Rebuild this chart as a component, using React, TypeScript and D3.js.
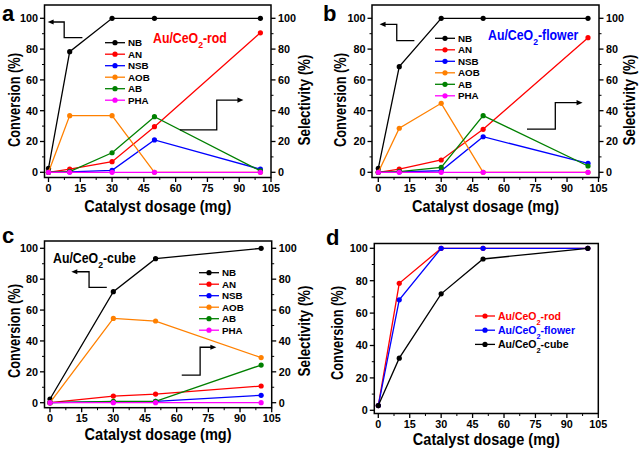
import React from "react";
import * as d3 from "d3";

const dosageABC = [0, 10, 30, 50, 100];
const dosageC = [0, 30, 50, 100];
const dosageD = [0, 10, 30, 50, 100];
const seriesNames = ["NB", "AN", "NSB", "AOB", "AB", "PHA"];
const seriesColors = ["#000000", "#ff0000", "#0000ff", "#ff8000", "#008000", "#ff00ff"];

const rodValues = [
  [2.6, 78.3, 100, 100, 100],
  [0, 2, 6.9, 29.6, 90.6],
  [0, 0.3, 1.3, 21, 2],
  [0, 36.8, 36.8, 0, 0],
  [0, 0.5, 12.7, 36.1, 0.9],
  [0, 0, 0, 0, 0],
];
const flowerValues = [
  [2.6, 68.6, 100, 100, 100],
  [0, 2, 8, 27.9, 87.4],
  [0, 0.3, 1, 23.1, 5.8],
  [0, 28.6, 44.8, 0, 0],
  [0, 0.5, 3.2, 36.8, 4.1],
  [0, 0, 0, 0, 0],
];
const cubeValues = [
  [2.4, 71.9, 93.3, 100],
  [0, 4.3, 5.6, 10.8],
  [0, 0.6, 0.9, 4.8],
  [0, 54.6, 52.9, 29.2],
  [0, 0.9, 0.9, 24.4],
  [0, 0, 0, 0],
];
const catalystNames = ["Au/CeO2-rod", "Au/CeO2-flower", "Au/CeO2-cube"];
const catalystColors = ["#ff0000", "#0000ff", "#000000"];
const conversionValues = [
  [2.9, 78.4, 100, 100, 100],
  [2.9, 68.2, 100, 100, 100],
  [2.9, 32.2, 71.9, 93.4, 100],
];
const xTicks = [0, 15, 30, 45, 60, 75, 90, 105];
const yTicks = [0, 20, 40, 60, 80, 100];

const FONT = "'Liberation Sans', Arial, Helvetica, sans-serif";

type Pt = [number, number];

interface PanelCfg {
  letter: string;
  letterPos: Pt;
  frame: { l: number; r: number; t: number; b: number };
  x0: [number, number];
  y0: [number, number];
  xs: number[];
  series: { name: string; color: string; values: number[] }[];
  rightAxis: boolean;
  legend: { x: number; y: number; dy: number; colored: boolean; fs: number };
  title?: { text: string; color: string; x: number; y: number };
  arrows?: Pt[][];
  xLabelY: number;
  yLabelX: number;
  yLabelY: number;
  y2LabelX?: number;
}

function Sub({ text }: { text: string }) {
  const i = text.indexOf("O2");
  if (i < 0) return <>{text}</>;
  return (
    <>
      {text.slice(0, i + 1)}
      <tspan baselineShift="sub" fontSize="0.7em">2</tspan>
      {text.slice(i + 2)}
    </>
  );
}

function Panel({ c }: { c: PanelCfg }) {
  const { frame } = c;
  const xPx = d3.scaleLinear().domain([0, 105]).range(c.x0);
  const yPx = d3.scaleLinear().domain([0, 100]).range(c.y0);
  const x = d3.scaleLinear().domain([xPx.invert(frame.l), xPx.invert(frame.r)]).range([frame.l, frame.r]);
  const y = d3.scaleLinear().domain([yPx.invert(frame.b), yPx.invert(frame.t)]).range([frame.b, frame.t]);
  const line = d3
    .line<[number, number]>()
    .x((d) => x(d[0]))
    .y((d) => y(d[1]));
  const xMinor = d3.range(7.5, 105, 15);
  const yMinor = d3.range(10, 100, 20);
  const cx = (frame.l + frame.r) / 2;
  return (
    <g fontFamily={FONT} fontWeight="bold">
      <text x={c.letterPos[0]} y={c.letterPos[1]} fontSize={22}>
        {c.letter}
      </text>
      {c.series.map((s) => {
        const pts = c.xs.map((xv, i) => [xv, s.values[i]] as [number, number]);
        return (
          <g key={s.name}>
            <path d={line(pts) || ""} fill="none" stroke={s.color} strokeWidth={1.3} />
            {pts.map((p, i) => (
              <circle key={i} cx={x(p[0])} cy={y(p[1])} r={2.6} fill={s.color} />
            ))}
          </g>
        );
      })}
      <rect x={frame.l} y={frame.t} width={frame.r - frame.l} height={frame.b - frame.t} fill="none" stroke="#000" strokeWidth={1.5} />
      {xTicks.map((t) => (
        <g key={"xt" + t}>
          <line x1={x(t)} x2={x(t)} y1={frame.b} y2={frame.b + 4.5} stroke="#000" strokeWidth={1.3} />
          <text x={x(t)} y={frame.b + 14} fontSize={10.8} textAnchor="middle">
            {t}
          </text>
        </g>
      ))}
      {xMinor.map((t) => (
        <line key={"xm" + t} x1={x(t)} x2={x(t)} y1={frame.b} y2={frame.b + 2.5} stroke="#000" strokeWidth={1} />
      ))}
      {yTicks.map((t) => (
        <g key={"yt" + t}>
          <line x1={frame.l - 4.5} x2={frame.l} y1={y(t)} y2={y(t)} stroke="#000" strokeWidth={1.3} />
          <text x={frame.l - 6.5} y={y(t) + 3.9} fontSize={10.8} textAnchor="end">
            {t}
          </text>
          {c.rightAxis && (
            <>
              <line x1={frame.r} x2={frame.r + 4.5} y1={y(t)} y2={y(t)} stroke="#000" strokeWidth={1.3} />
              <text x={frame.r + 7} y={y(t) + 3.9} fontSize={10.8} textAnchor="start">
                {t}
              </text>
            </>
          )}
        </g>
      ))}
      {yMinor.map((t) => (
        <g key={"ym" + t}>
          <line x1={frame.l - 2.5} x2={frame.l} y1={y(t)} y2={y(t)} stroke="#000" strokeWidth={1} />
          {c.rightAxis && <line x1={frame.r} x2={frame.r + 2.5} y1={y(t)} y2={y(t)} stroke="#000" strokeWidth={1} />}
        </g>
      ))}
      <text x={cx} y={c.xLabelY} fontSize={17} textAnchor="middle" textLength={147} lengthAdjust="spacingAndGlyphs">
        Catalyst dosage (mg)
      </text>
      <text
        transform={`translate(${c.yLabelX},${c.yLabelY}) rotate(-90)`}
        fontSize={16.5}
        textAnchor="middle"
        textLength={94}
        lengthAdjust="spacingAndGlyphs"
      >
        Conversion (%)
      </text>
      {c.rightAxis && c.y2LabelX !== undefined && (
        <text
          transform={`translate(${c.y2LabelX},${c.yLabelY}) rotate(-90)`}
          fontSize={16.5}
          textAnchor="middle"
          textLength={91}
          lengthAdjust="spacingAndGlyphs"
        >
          Selectivity (%)
        </text>
      )}
      {c.series.map((s, i) => {
        const ly = c.legend.y + i * c.legend.dy;
        return (
          <g key={"lg" + s.name}>
            <line x1={c.legend.x} x2={c.legend.x + 20} y1={ly} y2={ly} stroke={s.color} strokeWidth={1.3} />
            <circle cx={c.legend.x + 10} cy={ly} r={2.6} fill={s.color} />
            <text x={c.legend.x + 23} y={ly + 3.5} fontSize={c.legend.fs} fill={c.legend.colored ? s.color : "#000"}>
              <Sub text={s.name} />
            </text>
          </g>
        );
      })}
      {c.title && (
        <g transform={`translate(${c.title.x},${c.title.y}) scale(0.88,1)`}>
          <text x={0} y={0} fontSize={14} fill={c.title.color}>
            <Sub text={c.title.text} />
          </text>
        </g>
      )}
      {(c.arrows || []).map((a, i) => {
        const pts = a.map((p) => [x(p[0]), y(p[1])] as [number, number]);
        const n = pts.length;
        const [ex, ey] = pts[n - 1];
        const [px, py] = pts[n - 2];
        const ang = Math.atan2(ey - py, ex - px);
        const L = 6,
          W = 2.6;
        const head = [
          [ex, ey],
          [ex - L * Math.cos(ang) + W * Math.sin(ang), ey - L * Math.sin(ang) - W * Math.cos(ang)],
          [ex - L * Math.cos(ang) - W * Math.sin(ang), ey - L * Math.sin(ang) + W * Math.cos(ang)],
        ];
        const shaft = pts.slice(0, n - 1).concat([[ex - L * 0.7 * Math.cos(ang), ey - L * 0.7 * Math.sin(ang)]]);
        return (
          <g key={"ar" + i}>
            <path d={d3.line()(shaft as [number, number][]) || ""} fill="none" stroke="#000" strokeWidth={1.3} />
            <path d={"M" + head.map((h) => h.join(",")).join("L") + "Z"} fill="#000" />
          </g>
        );
      })}
    </g>
  );
}

const mk = (vals: number[][]) => seriesNames.map((n, i) => ({ name: n, color: seriesColors[i], values: vals[i] }));

const panels: PanelCfg[] = [
  {
    letter: "a",
    letterPos: [2, 20.5],
    frame: { l: 44.5, r: 271, t: 5, b: 177.5 },
    x0: [48.5, 271],
    y0: [172.3, 18.3],
    xs: dosageABC,
    series: mk(rodValues),
    rightAxis: true,
    legend: { x: 105, y: 42.7, dy: 11.5, colored: false, fs: 9.8 },
    title: { text: catalystNames[0], color: catalystColors[0], x: 153, y: 43 },
    arrows: [
      [[16, 87.5], [7.4, 87.5], [7.4, 97.6], [-0.4, 97.6]],
      [[62, 27.5], [79.4, 27.5], [79.4, 46.9], [92, 46.9]],
    ],
    xLabelY: 212,
    yLabelX: 20,
    yLabelY: 100,
    y2LabelX: 310,
  },
  {
    letter: "b",
    letterPos: [323, 20.5],
    frame: { l: 372, r: 599, t: 5, b: 177.5 },
    x0: [378.3, 598.5],
    y0: [172.3, 18.3],
    xs: dosageABC,
    series: mk(flowerValues),
    rightAxis: true,
    legend: { x: 435, y: 38.3, dy: 11.5, colored: false, fs: 9.8 },
    title: { text: catalystNames[1], color: catalystColors[1], x: 488, y: 40 },
    arrows: [
      [[17.2, 85.5], [8.8, 85.5], [8.8, 96.1], [0.6, 96.1]],
      [[70.9, 28.1], [84.4, 28.1], [84.4, 45.2], [97.4, 45.2]],
    ],
    xLabelY: 212,
    yLabelX: 345.5,
    yLabelY: 100,
    y2LabelX: 634.5,
  },
  {
    letter: "c",
    letterPos: [2, 243],
    frame: { l: 44.5, r: 271.7, t: 241, b: 407.7 },
    x0: [50, 271.7],
    y0: [402.7, 248.3],
    xs: dosageC,
    series: mk(cubeValues),
    rightAxis: true,
    legend: { x: 199, y: 272.7, dy: 11.5, colored: false, fs: 9.8 },
    title: { text: catalystNames[2], color: catalystColors[2], x: 53, y: 263 },
    arrows: [
      [[26.9, 74.7], [18.5, 74.7], [18.5, 84.8], [10.1, 84.8]],
      [[62.4, 17.9], [71.1, 17.9], [71.1, 35.9], [78.8, 35.9]],
    ],
    xLabelY: 440,
    yLabelX: 19.5,
    yLabelY: 331,
    y2LabelX: 310,
  },
  {
    letter: "d",
    letterPos: [326, 245],
    frame: { l: 374.3, r: 598.3, t: 243.5, b: 413.5 },
    x0: [378.3, 598.3],
    y0: [410.3, 248.3],
    xs: dosageD,
    series: catalystNames.map((n, i) => ({ name: n, color: catalystColors[i], values: conversionValues[i] })),
    rightAxis: false,
    legend: { x: 475, y: 316, dy: 14.2, colored: true, fs: 10.5 },
    xLabelY: 445,
    yLabelX: 343,
    yLabelY: 333,
  },
];

export default function App() {
  return (
    <svg width={640} height={451} style={{ position: "absolute", left: 0, top: 0, background: "#fff" }}>
      <rect width={640} height={451} fill="#fff" />
      {panels.map((p) => (
        <Panel key={p.letter} c={p} />
      ))}
    </svg>
  );
}
